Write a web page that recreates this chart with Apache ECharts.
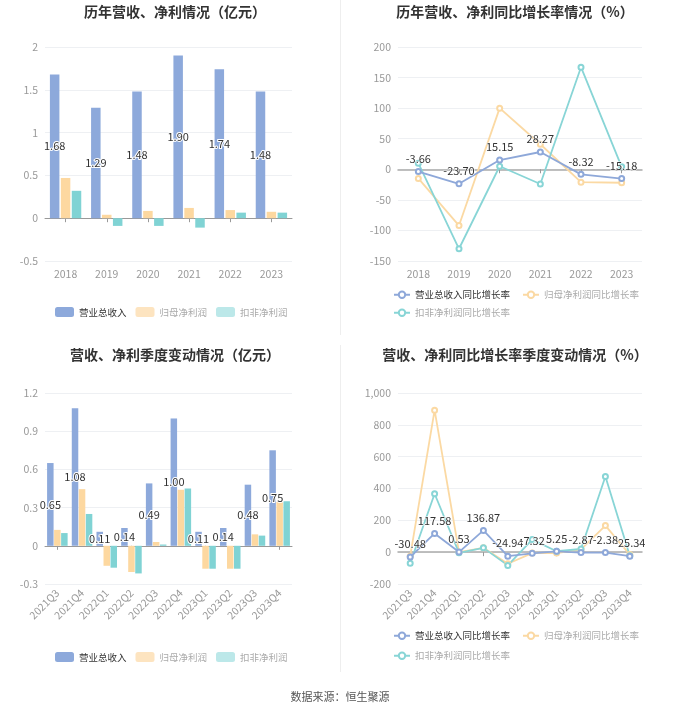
<!DOCTYPE html>
<html>
<head>
<meta charset="utf-8">
<script src="https://cdn.jsdelivr.net/npm/echarts@6/dist/echarts.min.js"></script>
<style>
html,body{margin:0;padding:0;background:#fff;}
#main{width:680px;height:712px;}
</style>
</head>
<body>
<div id="main"></div>
<script>
// ---- data ----
const years = ['2018', '2019', '2020', '2021', '2022', '2023'];
const annualRevenue = [1.68, 1.29, 1.48, 1.90, 1.74, 1.48];
const annualNetProfit = [0.47, 0.04, 0.085, 0.12, 0.095, 0.075];
const annualDeductedProfit = [0.32, -0.09, -0.09, -0.11, 0.065, 0.065];

const annualRevenueGrowth = [-3.66, -23.70, 15.15, 28.27, -8.32, -15.18];
const annualNetProfitGrowth = [-15, -92, 100, 41, -21, -22];
const annualDeductedGrowth = [10, -130, 5, -24, 167, 4];

const quarters = ['2021Q3', '2021Q4', '2022Q1', '2022Q2', '2022Q3', '2022Q4', '2023Q1', '2023Q2', '2023Q3', '2023Q4'];
const qRevenue = [0.65, 1.08, 0.11, 0.14, 0.49, 1.00, 0.11, 0.14, 0.48, 0.75];
const qNetProfit = [0.125, 0.445, -0.157, -0.206, 0.03, 0.44, -0.18, -0.18, 0.09, 0.345];
const qDeductedProfit = [0.10, 0.25, -0.172, -0.217, 0.01, 0.45, -0.18, -0.18, 0.08, 0.35];

const qRevenueGrowth = [-30.48, 117.58, 0.53, 136.87, -24.94, -7.32, 5.25, -2.87, -2.38, -25.34];
const qNetProfitGrowth = [-25, 892, 0, 27, -73, -6, -6, 17, 167, -15];
const qDeductedGrowth = [-70, 367, -4, 27, -83, 79, 6, 20, 475, -22];

const barNames = ['营业总收入', '归母净利润', '扣非净利润'];
const lineNames = ['营业总收入同比增长率', '归母净利润同比增长率', '扣非净利润同比增长率'];
const titles = ['历年营收、净利情况（亿元）', '历年营收、净利同比增长率情况（%）', '营收、净利季度变动情况（亿元）', '营收、净利同比增长率季度变动情况（%）'];
const source = '数据来源：恒生聚源';

// ---- styles ----
const FONT = '"Noto Sans CJK SC", "Noto Sans", sans-serif';
const barColors = ['#8DA9DB', '#FDD8A0', '#80D3D4'];
const barLegendColors = ['#8DA9DB', '#FDE4C0', '#BCE8E9'];
const lineColors = ['#8EA8D9', '#FBD9A3', '#88D5D6'];
const legendTextColors = ['#333', '#aaa', '#aaa'];

const grids = [
  {left: 45, top: 47, width: 247, height: 214},
  {left: 398, top: 47, width: 244, height: 214},
  {left: 45, top: 393, width: 247, height: 191},
  {left: 398, top: 393, width: 244, height: 191}
];
const yRanges = [
  {min: -0.5, max: 2, interval: 0.5},
  {min: -150, max: 200, interval: 50},
  {min: -0.3, max: 1.2, interval: 0.3},
  {min: -200, max: 1000, interval: 200}
];
const cats = [years, years, quarters, quarters];

const xAxis = [];
const yAxis = [];
for (let i = 0; i < 4; i++) {
  const isLine = (i % 2 === 1);
  xAxis.push({
    type: 'category', gridIndex: i, data: cats[i], boundaryGap: true,
    axisLine: {show: true, onZero: true, lineStyle: {color: isLine ? '#aaa' : '#999', width: isLine ? 1.5 : 1}},
    axisTick: {show: true, alignWithLabel: true, length: 4, lineStyle: {color: '#999'}},
    axisLabel: {show: false},
    splitLine: {show: false}
  });
  xAxis.push({
    type: 'category', gridIndex: i, data: cats[i], position: 'bottom', boundaryGap: true,
    axisLine: {show: false, onZero: false},
    axisTick: {show: false},
    axisLabel: {
      show: true, color: '#999', fontSize: 10.5, fontFamily: FONT,
      rotate: i >= 2 ? 45 : 0, margin: i >= 2 ? 7 : 8, interval: 0
    },
    splitLine: {show: false}
  });
  yAxis.push({
    type: 'value', gridIndex: i,
    min: yRanges[i].min, max: yRanges[i].max, interval: yRanges[i].interval,
    axisLine: {show: false}, axisTick: {show: false},
    axisLabel: {color: '#999', fontSize: 10.5, fontFamily: FONT, margin: 7},
    splitLine: {lineStyle: {color: '#eef0f3', width: 1}}
  });
}

const fmt2 = p => Number(p.value).toFixed(2);

function barSeries(gi, arrs, bw, gap) {
  return arrs.map((arr, k) => ({
    name: barNames[k], type: 'bar', xAxisIndex: gi * 2, yAxisIndex: gi,
    data: arr, barWidth: bw, barGap: gap,
    itemStyle: {color: barColors[k]},
    label: k === 0 ? {
      show: true, position: 'inside', formatter: fmt2,
      color: '#333', fontSize: 11, fontFamily: FONT,
      textBorderColor: '#fff', textBorderWidth: 2
    } : {show: false},
    emphasis: {disabled: true}
  }));
}
function lineSeries(gi, arrs) {
  return arrs.map((arr, k) => ({
    name: lineNames[k], type: 'line', xAxisIndex: gi * 2, yAxisIndex: gi,
    data: arr, symbol: 'emptyCircle', symbolSize: 5,
    lineStyle: {color: lineColors[k], width: 1.8},
    itemStyle: {color: lineColors[k]},
    z: k === 0 ? 5 : 3,
    label: k === 0 ? {
      show: true, position: 'top', formatter: fmt2, distance: 4,
      color: '#333', fontSize: 11, fontFamily: FONT,
      textBorderColor: '#fff', textBorderWidth: 1
    } : {show: false},
    emphasis: {disabled: true}
  }));
}

const series = [].concat(
  barSeries(0, [annualRevenue, annualNetProfit, annualDeductedProfit], 9.5, '15%'),
  lineSeries(1, [annualRevenueGrowth, annualNetProfitGrowth, annualDeductedGrowth]),
  barSeries(2, [qRevenue, qNetProfit, qDeductedProfit], 6.5, '8%'),
  lineSeries(3, [qRevenueGrowth, qNetProfitGrowth, qDeductedGrowth])
);

const titleCfg = [
  {x: 170, y: 0}, {x: 510, y: 0}, {x: 170, y: 343}, {x: 510, y: 343}
];
const title = titles.map((t, i) => ({
  text: t, left: titleCfg[i].x, top: titleCfg[i].y, textAlign: 'center',
  textStyle: {fontSize: 14, fontWeight: 'bold', color: '#333', fontFamily: FONT}
}));

function barLegend(top) {
  return {
    left: 50, top: top, icon: 'roundRect', itemWidth: 19, itemHeight: 10, itemGap: 9,
    textStyle: {fontSize: 9.5, fontFamily: FONT},
    selectedMode: false,
    data: barNames.map((n, k) => ({name: n, itemStyle: {color: barLegendColors[k]}, textStyle: {color: legendTextColors[k]}}))
  };
}
function lineLegend(names, idx, top) {
  return {
    left: 388, top: top, itemWidth: 16, itemHeight: 8, itemGap: 12,
    textStyle: {fontSize: 9.5, fontFamily: FONT},
    selectedMode: false,
    data: names.map((n, j) => ({name: n, textStyle: {color: legendTextColors[idx[j]]}}))
  };
}
const legend = [
  barLegend(302),
  lineLegend([lineNames[0], lineNames[1]], [0, 1], 285),
  lineLegend([lineNames[2]], [2], 303),
  barLegend(647),
  lineLegend([lineNames[0], lineNames[1]], [0, 1], 626),
  lineLegend([lineNames[2]], [2], 646)
];

const option = {
  backgroundColor: '#fff',
  animation: false,
  textStyle: {fontFamily: FONT},
  title: title,
  legend: legend,
  grid: grids.map(g => Object.assign({containLabel: false}, g)),
  xAxis: xAxis,
  yAxis: yAxis,
  series: series,
  graphic: [
    {type: 'line', shape: {x1: 340.5, y1: 0, x2: 340.5, y2: 335}, style: {stroke: '#eeeeee', lineWidth: 1}, silent: true},
    {type: 'line', shape: {x1: 340.5, y1: 345, x2: 340.5, y2: 672}, style: {stroke: '#eeeeee', lineWidth: 1}, silent: true},
    {type: 'text', left: 'center', top: 691, style: {text: source, fill: '#555', fontSize: 11, fontFamily: FONT}, silent: true}
  ]
};

const chart = echarts.init(document.getElementById('main'), null, {renderer: 'canvas'});
chart.setOption(option);
</script>
</body>
</html>
